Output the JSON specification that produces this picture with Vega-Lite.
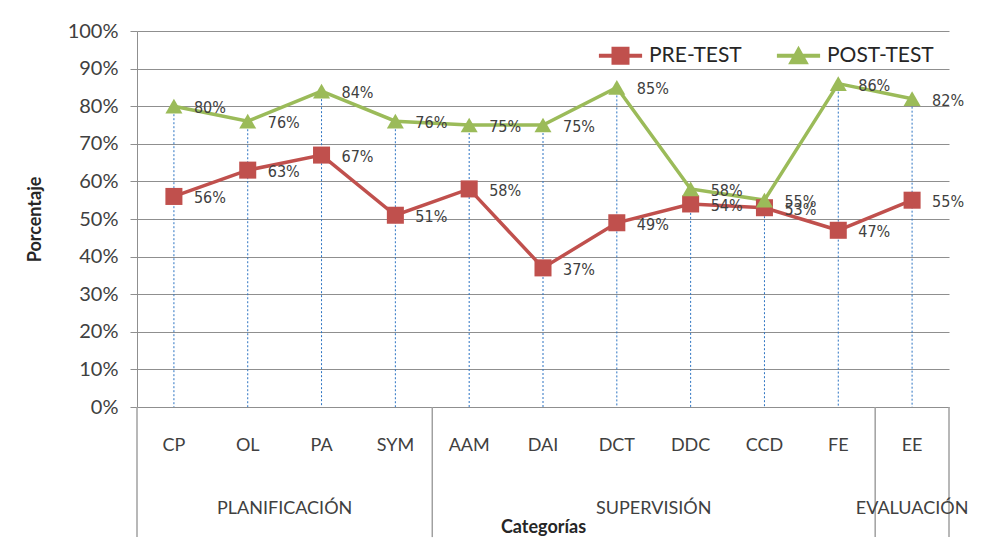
{
  "$schema": "https://vega.github.io/schema/vega-lite/v6.json",
  "width": 812,
  "height": 376,
  "autosize": {"type": "none"},
  "padding": {"left": 137, "top": 31, "right": 33, "bottom": 139},
  "background": "white",
  "config": {
    "view": {"stroke": null},
    "font": "Lato",
    "axisY": {
      "format": ".0%", "tickCount": 12,
      "labelOverlap": false,
      "grid": true, "gridColor": "#8f8f8f", "gridWidth": 1,
      "domainColor": "#8f8f8f", "tickColor": "#8f8f8f", "tickSize": 7,
      "labelFont": "Lato", "labelFontSize": 20, "labelColor": "#404040", "labelPadding": 12,
      "titleFont": "Lato", "titleFontSize": 18, "titleFontWeight": "bold", "titleColor": "#262626",
      "titleX": -102, "titleY": 188, "titleAngle": -90, "titleBaseline": "middle", "titleAlign": "center"
    }
  },
  "datasets": {
    "scores": [
      {"cat": "CP", "serie": "PRE-TEST", "v": 0.56},
      {"cat": "OL", "serie": "PRE-TEST", "v": 0.63},
      {"cat": "PA", "serie": "PRE-TEST", "v": 0.67},
      {"cat": "SYM", "serie": "PRE-TEST", "v": 0.51},
      {"cat": "AAM", "serie": "PRE-TEST", "v": 0.58},
      {"cat": "DAI", "serie": "PRE-TEST", "v": 0.37},
      {"cat": "DCT", "serie": "PRE-TEST", "v": 0.49},
      {"cat": "DDC", "serie": "PRE-TEST", "v": 0.54},
      {"cat": "CCD", "serie": "PRE-TEST", "v": 0.53},
      {"cat": "FE", "serie": "PRE-TEST", "v": 0.47},
      {"cat": "EE", "serie": "PRE-TEST", "v": 0.55},
      {"cat": "CP", "serie": "POST-TEST", "v": 0.80},
      {"cat": "OL", "serie": "POST-TEST", "v": 0.76},
      {"cat": "PA", "serie": "POST-TEST", "v": 0.84},
      {"cat": "SYM", "serie": "POST-TEST", "v": 0.76},
      {"cat": "AAM", "serie": "POST-TEST", "v": 0.75},
      {"cat": "DAI", "serie": "POST-TEST", "v": 0.75},
      {"cat": "DCT", "serie": "POST-TEST", "v": 0.85},
      {"cat": "DDC", "serie": "POST-TEST", "v": 0.58},
      {"cat": "CCD", "serie": "POST-TEST", "v": 0.55},
      {"cat": "FE", "serie": "POST-TEST", "v": 0.86},
      {"cat": "EE", "serie": "POST-TEST", "v": 0.82}
    ],
    "dividersStart": [{"cat": "CP"}, {"cat": "AAM"}, {"cat": "EE"}],
    "dividersEnd": [{"cat": "EE"}],
    "groupsMid": [{"cat": "OL", "label": "PLANIFICACIÓN"}, {"cat": "DCT", "label": "SUPERVISIÓN"}],
    "groupsCenter": [{"cat": "EE", "label": "EVALUACIÓN"}]
  },
  "layer": [
    {
      "data": {"name": "scores"},
      "transform": [{"filter": "datum.serie === 'POST-TEST'"}],
      "mark": {"type": "rule", "color": "#2c73c2", "strokeDash": [2, 2], "strokeWidth": 1},
      "encoding": {
        "x": {
          "field": "cat", "type": "nominal", "title": "Categorías",
          "scale": {"domain": ["CP", "OL", "PA", "SYM", "AAM", "DAI", "DCT", "DDC", "CCD", "FE", "EE"], "paddingInner": 0, "paddingOuter": 0},
          "axis": {
            "orient": "bottom", "domain": false, "ticks": false, "tickSize": 0, "grid": false,
            "labelAngle": 0, "labelPadding": 29, "labelFont": "Lato", "labelFontSize": 18, "labelColor": "#404040",
            "titleFont": "Lato", "titleFontSize": 18, "titleFontWeight": "bold", "titleColor": "#262626",
            "titleY": 120, "titleBaseline": "middle"
          }
        },
        "y": {
          "field": "v", "type": "quantitative", "title": "Porcentaje",
          "scale": {"domain": [0, 1], "nice": false, "zero": true},
          "axis": {"values": [0, 0.1, 0.2, 0.3, 0.4, 0.5, 0.6, 0.7, 0.8, 0.9, 1], "tickCount": 12, "format": ".0%"}
        },
        "y2": {"datum": 0}
      }
    },
    {
      "data": {"name": "scores"},
      "mark": {"type": "line", "strokeWidth": 3.5},
      "encoding": {
        "x": {"field": "cat", "type": "nominal", "title": "Categorías"},
        "y": {"field": "v", "type": "quantitative", "title": "Porcentaje", "axis": {"values": [0, 0.1, 0.2, 0.3, 0.4, 0.5, 0.6, 0.7, 0.8, 0.9, 1], "tickCount": 12, "format": ".0%"}},
        "color": {
          "field": "serie", "type": "nominal",
          "scale": {"domain": ["PRE-TEST", "POST-TEST"], "range": ["#c0504d", "#9bbb59"]},
          "legend": {
            "orient": "none", "legendX": 473, "legendY": 14, "direction": "horizontal", "title": null,
            "labelFont": "Lato", "labelFontSize": 21, "labelColor": "#262626",
            "symbolSize": 324, "symbolStrokeWidth": 0, "labelOffset": 18, "columnPadding": 34, "padding": 0,
            "encode": {
              "symbols": {
                "update": {
                  "shape": {"signal": "datum.value === 'PRE-TEST' ? 'M-2.4,-0.22H2.4V0.22H-2.4Z M-1,-1H1V1H-1Z' : 'M-2.4,-0.22H2.4V0.22H-2.4Z M0,-1.1L1.15,0.95H-1.15Z'"},
                  "fill": {"signal": "scale('color', datum.value)"},
                  "strokeWidth": {"value": 0},
                  "opacity": {"value": 1}
                }
              }
            }
          }
        }
      }
    },
    {
      "data": {"name": "scores"},
      "transform": [{"filter": "datum.serie === 'PRE-TEST'"}],
      "mark": {"type": "point", "filled": true, "shape": "square", "size": 290, "opacity": 1, "color": "#c0504d"},
      "encoding": {
        "x": {"field": "cat", "type": "nominal", "title": "Categorías"},
        "y": {"field": "v", "type": "quantitative", "title": "Porcentaje", "axis": {"values": [0, 0.1, 0.2, 0.3, 0.4, 0.5, 0.6, 0.7, 0.8, 0.9, 1], "tickCount": 12, "format": ".0%"}}
      }
    },
    {
      "data": {"name": "scores"},
      "transform": [{"filter": "datum.serie === 'POST-TEST'"}],
      "mark": {"type": "point", "filled": true, "shape": "triangle-up", "size": 290, "opacity": 1, "color": "#9bbb59"},
      "encoding": {
        "x": {"field": "cat", "type": "nominal", "title": "Categorías"},
        "y": {"field": "v", "type": "quantitative", "title": "Porcentaje", "axis": {"values": [0, 0.1, 0.2, 0.3, 0.4, 0.5, 0.6, 0.7, 0.8, 0.9, 1], "tickCount": 12, "format": ".0%"}}
      }
    },
    {
      "data": {"name": "scores"},
      "mark": {"type": "text", "align": "left", "baseline": "middle", "dx": 20, "dy": 2, "font": "DejaVu Sans Condensed", "fontSize": 16, "fill": "#404040"},
      "encoding": {
        "x": {"field": "cat", "type": "nominal", "title": "Categorías"},
        "y": {"field": "v", "type": "quantitative", "title": "Porcentaje", "axis": {"values": [0, 0.1, 0.2, 0.3, 0.4, 0.5, 0.6, 0.7, 0.8, 0.9, 1], "tickCount": 12, "format": ".0%"}},
        "text": {"field": "v", "type": "quantitative", "format": ".0%"}
      }
    },
    {
      "data": {"name": "dividersStart"},
      "mark": {"type": "rule", "color": "#a0a0a0", "strokeWidth": 1.5},
      "encoding": {
        "x": {"field": "cat", "type": "nominal", "bandPosition": 0, "title": "Categorías"},
        "y": {"datum": 0, "type": "quantitative", "title": "Porcentaje", "axis": {"values": [0, 0.1, 0.2, 0.3, 0.4, 0.5, 0.6, 0.7, 0.8, 0.9, 1], "tickCount": 12, "format": ".0%"}},
        "y2": {"datum": -0.346}
      }
    },
    {
      "data": {"name": "dividersEnd"},
      "mark": {"type": "rule", "color": "#a0a0a0", "strokeWidth": 1.5},
      "encoding": {
        "x": {"field": "cat", "type": "nominal", "bandPosition": 1, "title": "Categorías"},
        "y": {"datum": 0, "type": "quantitative", "title": "Porcentaje", "axis": {"values": [0, 0.1, 0.2, 0.3, 0.4, 0.5, 0.6, 0.7, 0.8, 0.9, 1], "tickCount": 12, "format": ".0%"}},
        "y2": {"datum": -0.346}
      }
    },
    {
      "data": {"name": "groupsMid"},
      "mark": {"type": "text", "align": "center", "baseline": "middle", "font": "Lato", "fontSize": 18, "fill": "#404040"},
      "encoding": {
        "x": {"field": "cat", "type": "nominal", "bandPosition": 1, "title": "Categorías"},
        "y": {"datum": -0.27, "type": "quantitative", "title": "Porcentaje", "axis": {"values": [0, 0.1, 0.2, 0.3, 0.4, 0.5, 0.6, 0.7, 0.8, 0.9, 1], "tickCount": 12, "format": ".0%"}},
        "text": {"field": "label"}
      }
    },
    {
      "data": {"name": "groupsCenter"},
      "mark": {"type": "text", "align": "center", "baseline": "middle", "font": "Lato", "fontSize": 18, "fill": "#404040"},
      "encoding": {
        "x": {"field": "cat", "type": "nominal", "bandPosition": 0.5, "title": "Categorías"},
        "y": {"datum": -0.27, "type": "quantitative", "title": "Porcentaje", "axis": {"values": [0, 0.1, 0.2, 0.3, 0.4, 0.5, 0.6, 0.7, 0.8, 0.9, 1], "tickCount": 12, "format": ".0%"}},
        "text": {"field": "label"}
      }
    }
  ]
}
